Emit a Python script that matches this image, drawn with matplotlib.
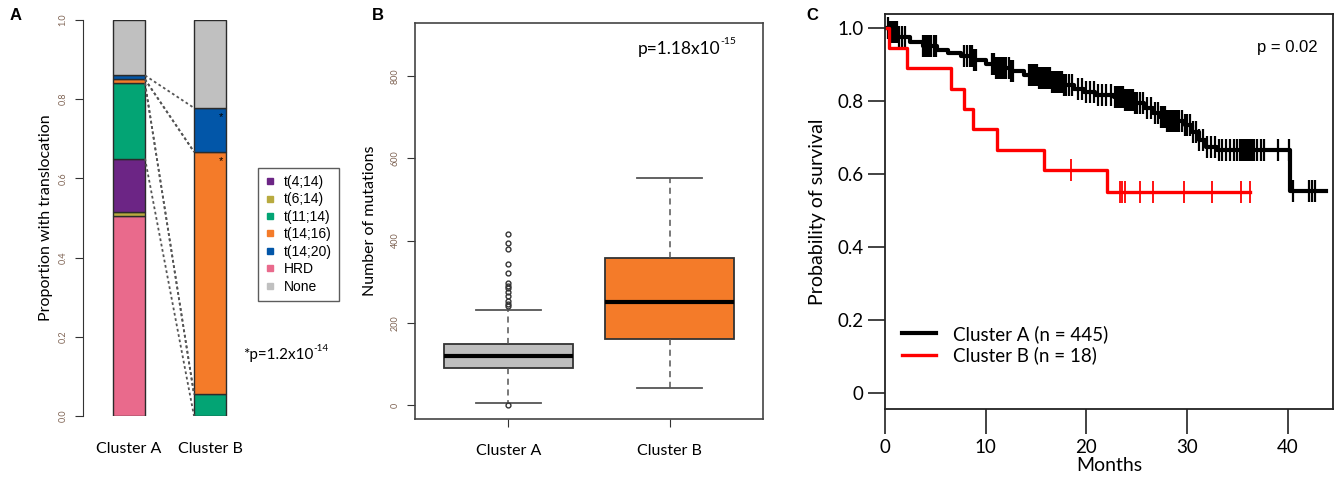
import numpy as np
import matplotlib
matplotlib.use("Agg")
import matplotlib.pyplot as plt
from matplotlib.lines import Line2D

plt.rcParams['font.family'] = ['Lato', 'DejaVu Sans']

W, H = 1342, 480

# ---- panel A data: stacked proportions (bottom to top)
groups = ["Cluster A", "Cluster B"]
categories = ["HRD", "t(6;14)", "t(4;14)", "t(11;14)", "t(14;16)", "t(14;20)", "None"]
cat_colors = ["#E96A8C", "#B8AA3F", "#6C2585", "#03A474", "#F47B29", "#0256A8", "#C0C0C0"]
prop_a = [0.505, 0.010, 0.135, 0.190, 0.010, 0.010, 0.140]
prop_b = [0.0, 0.0, 0.0, 0.055, 0.612, 0.111, 0.222]
legend_order = ["t(4;14)", "t(6;14)", "t(11;14)", "t(14;16)", "t(14;20)", "HRD", "None"]
linked = ["t(11;14)", "t(14;16)", "t(14;20)"]

# ---- panel B data: box statistics
box_stats = {
    "Cluster A": dict(whislo=6, q1=91, med=120, q3=148, whishi=232,
                      fliers=[1, 241, 246, 252, 264, 276, 284, 290, 297, 321, 343, 379, 394, 415]),
    "Cluster B": dict(whislo=42, q1=160, med=251, q3=358, whishi=553, fliers=[]),
}
box_colors = ["#BEBEBE", "#F47B29"]

# ---- panel C data: Kaplan-Meier
# cluster B: individual follow-up times, 1 = death, 0 = censored
b_times = [0.43, 2.2, 6.55, 7.8, 8.7, 11.1, 15.8, 18.5, 22.1, 23.3, 23.55, 23.8, 25.3, 26.6, 29.7, 32.5, 35.4, 36.3]
b_event = [1, 1, 1, 1, 1, 1, 1, 0, 1, 0, 0, 0, 0, 0, 0, 0, 0, 0]
# cluster A: step curve
a_step_t = [0, 0.5, 1.3, 2.5, 3.8, 5.2, 6.3, 7.5, 8.8, 10.0, 10.9, 12.5, 13.8, 15.2, 16.6, 17.7,
            18.75, 19.8, 20.9, 22.7, 23.8, 24.8, 25.7, 26.6, 27.3, 28.0, 29.8, 30.5, 31.2, 31.9, 33.0, 40.2]
a_step_s = [1.0, 0.99, 0.976, 0.962, 0.949, 0.94, 0.931, 0.922, 0.913, 0.902, 0.890, 0.881, 0.872, 0.862,
            0.853, 0.843, 0.832, 0.824, 0.817, 0.812, 0.803, 0.794, 0.781, 0.767, 0.755, 0.744, 0.735,
            0.715, 0.694, 0.674, 0.666, 0.553]
a_end = 43.8
a_censor = [0.3, 0.5, 0.6, 0.8, 1.0, 1.2, 1.4, 1.7, 2.0,
            3.8, 3.9, 4.0, 4.2, 4.3, 4.5, 4.6, 4.9, 5.1,
            7.8, 8.1, 8.4, 8.6, 8.8, 9.0,
            10.6, 10.8, 11.0, 11.2, 11.4, 11.5, 11.7, 11.9, 12.0, 12.3, 12.5, 12.7,
            14.3, 14.5, 14.6, 14.8, 14.9, 15.1, 15.3, 15.5, 15.6, 15.8, 16.0, 16.2, 16.4, 16.6, 16.8,
            17.0, 17.2, 17.4, 17.6, 17.8, 18.0, 18.3, 18.6,
            19.2, 19.6, 20.0, 20.4, 20.8, 21.2, 21.6, 22.0, 22.4,
            22.8, 23.0, 23.2, 23.4, 23.6, 23.8, 24.0, 24.2, 24.4, 24.6, 24.8, 25.0, 25.3, 25.6,
            26.0, 26.4, 26.8, 27.1, 27.4, 27.6, 27.8, 28.0, 28.2, 28.4, 28.6, 28.8, 29.0, 29.2,
            29.5, 29.8, 30.0, 30.3, 30.6, 30.9, 31.2,
            31.6, 32.0, 32.4, 32.8, 33.2, 33.5, 33.9, 34.3, 34.7, 35.0,
            35.3, 35.5, 35.7, 35.9, 36.1, 36.3, 36.5, 36.7, 37.0, 37.3, 37.6,
            39.0, 40.1, 40.5, 42.1, 42.4, 42.7]
km_labels = ["Cluster A (n = 445)", "Cluster B (n = 18)"]


def rect(x0, y0, x1, y1):
    # pixel box -> figure fraction
    return [x0 / W, 1 - y1 / H, (x1 - x0) / W, (y1 - y0) / H]


fig = plt.figure(figsize=(W / 100, H / 100), dpi=100)
tick_grey = "#806555"

# ================= A =================
axA = fig.add_axes(rect(83, 20, 240, 416))
bw = 0.395
for gi, props in enumerate([prop_a, prop_b]):
    bottom = 0
    for p, c in zip(props, cat_colors):
        if p > 0:
            axA.bar(gi + 1, p, bottom=bottom, width=bw, color=c, edgecolor="#2b2b2b", linewidth=1)
        bottom += p
cum_a = np.concatenate([[0], np.cumsum(prop_a)])
cum_b = np.concatenate([[0], np.cumsum(prop_b)])
for name in linked:
    i = categories.index(name)
    for j in (i, i + 1):
        axA.plot([1 + bw / 2, 2 - bw / 2], [cum_a[j], cum_b[j]], ls=(0, (1.5, 1.5)),
                 color="#555555", lw=1.3)
for name in ["t(14;20)", "t(14;16)"]:
    i = categories.index(name)
    axA.text(2 + 0.14, cum_b[i + 1] - 0.022, "*", ha="center", va="center", fontsize=8,
             family="Liberation Sans")
axA.set_xlim(0.432, 2.37)
axA.set_ylim(0, 1)
for s in ["top", "right", "bottom"]:
    axA.spines[s].set_visible(False)
axA.spines["left"].set_color("#333333")
axA.set_yticks(np.arange(0, 1.01, 0.2))
axA.set_yticklabels([f"{v:.1f}" for v in np.arange(0, 1.01, 0.2)], rotation=90, va="center",
                    fontsize=6.5, color=tick_grey)
axA.tick_params(axis="y", length=6, color="#333333", pad=5)
axA.set_xticks([1, 2])
axA.set_xticklabels(groups, fontsize=11.5)
axA.tick_params(axis="x", length=0, pad=19)
axA.set_ylabel("Proportion with translocation", fontsize=11.5, labelpad=4)

handles = [Line2D([], [], marker="s", ls="none", markersize=4,
                  color=cat_colors[categories.index(n)]) for n in legend_order]
leg = fig.legend(handles, legend_order, loc="upper left", bbox_to_anchor=(251 / W, 1 - 161 / H),
                 frameon=True, fancybox=False, edgecolor="#333333", handlelength=0.8,
                 handletextpad=0.6, labelspacing=0.25, borderpad=0.5,
                 prop={"family": "Liberation Sans", "size": 10})
leg.get_frame().set_linewidth(1)
tA = fig.text(243 / W, 1 - 355 / H, "*p=1.2x10", fontsize=11, va="center")
axA.annotate("-14", xy=(1.0, 0.95), xycoords=tA, fontsize=7, va="center", ha="left",
             annotation_clip=False)

# ================= B =================
axB = fig.add_axes(rect(415, 23, 763, 419))
stats = [dict(label=g, **box_stats[g]) for g in groups]
bp = axB.bxp(stats, positions=[1, 2], widths=0.8, capwidths=0.4, patch_artist=True,
             boxprops=dict(edgecolor="#333333", linewidth=1.3),
             medianprops=dict(color="black", linewidth=3),
             whiskerprops=dict(color="#555555", linestyle=(0, (4, 3)), linewidth=1.1),
             capprops=dict(color="#555555", linewidth=1.3),
             flierprops=dict(marker="o", markersize=3.5, markerfacecolor="none",
                             markeredgecolor="#333333", markeredgewidth=1))
for patch, c in zip(bp["boxes"], box_colors):
    patch.set_facecolor(c)
axB.set_xlim(0.42, 2.58)
axB.set_ylim(-34, 929)
axB.set_yticks([0, 200, 400, 600, 800])
axB.set_yticklabels(["0", "200", "400", "600", "800"], rotation=90, va="center", fontsize=6.5,
                    color=tick_grey)
axB.tick_params(axis="y", length=6, color="#333333", pad=5)
axB.tick_params(axis="x", length=6, color="#333333", pad=12, labelsize=11.5)
axB.set_ylabel("Number of mutations", fontsize=11.5, labelpad=10)
for s in axB.spines.values():
    s.set_color("#444444")
    s.set_linewidth(1.2)
tB = axB.text(0.64, 0.935, "p=1.18x10", transform=axB.transAxes, fontsize=12.5, va="center")
axB.annotate("-15", xy=(1.0, 0.95), xycoords=tB, fontsize=7.5, va="center", ha="left")

# ================= C =================
axC = fig.add_axes(rect(885, 14, 1333, 409))

# cluster B Kaplan-Meier from individual times
order = np.argsort(b_times)
bt = np.array(b_times)[order]
be = np.array(b_event)[order]
at_risk = len(bt)
surv = 1.0
kx, ky, cens_x, cens_y = [0.0], [1.0], [], []
for t, e in zip(bt, be):
    if e:
        surv *= (at_risk - 1) / at_risk
        kx.append(t)
        ky.append(surv)
    else:
        cens_x.append(t)
        cens_y.append(surv)
    at_risk -= 1
kx.append(bt[-1])
ky.append(surv)

a_x = list(a_step_t) + [a_end]
a_y = list(a_step_s) + [a_step_s[-1]]
idx = np.searchsorted(a_step_t, a_censor, side="right") - 1
a_cy = np.array(a_step_s)[idx]

axC.step(a_x, a_y, where="post", color="black", lw=3, label=km_labels[0])
axC.plot(a_censor, a_cy, ls="none", marker="|", markersize=16, markeredgewidth=1.6, color="black")
axC.step(kx, ky, where="post", color="#FF0000", lw=2.4, label=km_labels[1])
axC.plot(cens_x, cens_y, ls="none", marker="|", markersize=16, markeredgewidth=1.3, color="#FF0000")

axC.set_xlim(0, 44.5)
axC.set_ylim(-0.044, 1.038)
axC.set_yticks([0, 0.2, 0.4, 0.6, 0.8, 1.0])
axC.set_yticklabels(["0", "0.2", "0.4", "0.6", "0.8", "1.0"])
axC.set_xticks([0, 10, 20, 30, 40])
axC.tick_params(labelsize=13.5, length=12, width=1.2, color="#222222")
axC.tick_params(axis="x", length=18)
for s in axC.spines.values():
    s.set_color("#222222")
    s.set_linewidth(1.3)
axC.set_xlabel("Months", fontsize=14, labelpad=1)
axC.set_ylabel("Probability of survival", fontsize=14, labelpad=8)
axC.text(0.965, 0.915, "p = 0.02", transform=axC.transAxes, ha="right", va="center",
         fontsize=12, family="Liberation Sans")
axC.legend(loc="lower left", bbox_to_anchor=(0.0, 0.07), frameon=False, fontsize=13.5,
           handlelength=1.8, handletextpad=0.9, labelspacing=0.2)

# panel letters
for lab, x in [("A", 10), ("B", 372), ("C", 806)]:
    fig.text(x / W, 1 - 15 / H, lab, fontsize=12, fontweight="bold", va="center",
             family="Liberation Sans")

fig.savefig("out.png", dpi=100)
